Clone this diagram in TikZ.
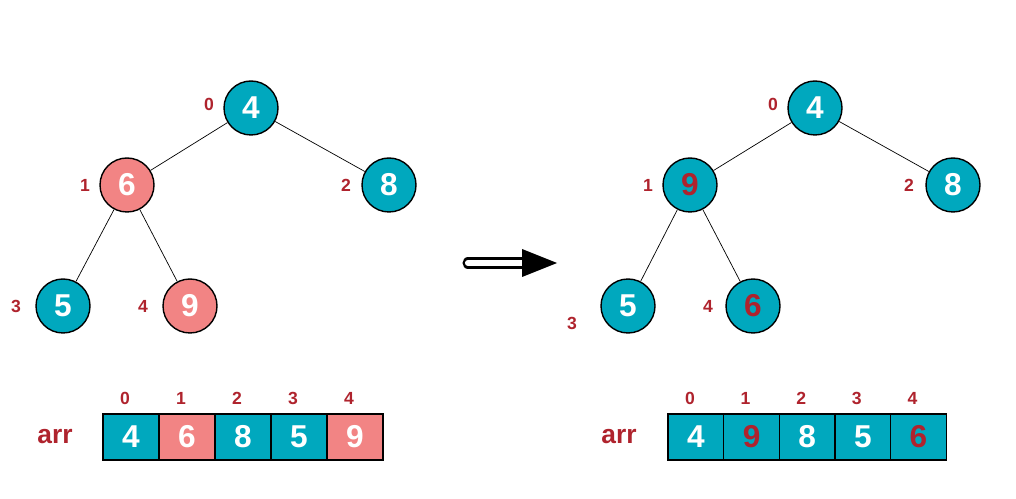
\documentclass[tikz,border=0pt]{standalone}
\usepackage{fontspec}
\setmainfont{Liberation Sans}
\usetikzlibrary{arrows.meta}
\definecolor{teal}{RGB}{0,168,190}
\definecolor{pinkk}{RGB}{242,132,132}
\definecolor{darkred}{RGB}{175,35,45}
\begin{document}
\begin{tikzpicture}[x=0.02cm,y=-0.02cm]
			\tikzstyle{every node}=[font=\bfseries]
			\tikzstyle{heap}=[circle,draw=black,thick,minimum size=1.08cm,inner sep=0pt,fill=teal,text=white,font=\bfseries\fontsize{18}{18}\selectfont]
			\tikzstyle{swap}=[heap,fill=pinkk]
			\tikzstyle{moved}=[heap,text=darkred]
			\tikzstyle{idx}=[text=darkred,font=\bfseries\fontsize{10}{10}\selectfont]
			\tikzstyle{cell}=[draw=black,thick,minimum width=1.12cm,minimum height=0.92cm,inner sep=0pt,fill=teal,text=white,font=\bfseries\fontsize{18}{18}\selectfont]
			\tikzstyle{edge}=[thin]
			\useasboundingbox (0,0) rectangle (1016,499);
			% left tree
			\node[heap] (l0) at (251,108) {4};
			\node[swap] (l1) at (127,185) {6};
			\node[heap] (l2) at (389,185) {8};
			\node[heap] (l3) at (63,306) {5};
			\node[swap] (l4) at (190,306) {9};
			\draw[edge] (l0) -- (l1); \draw[edge] (l0) -- (l2);
			\draw[edge] (l1) -- (l3); \draw[edge] (l1) -- (l4);
			\node[idx] (li0) at (209,104) {0};
			\node[idx] (li1) at (85,185) {1};
			\node[idx] (li2) at (346,185) {2};
			\node[idx] (li3) at (16,306) {3};
			\node[idx] (li4) at (143,306) {4};
			% right tree
			\node[heap] (r0) at (815,108) {4};
			\node[moved] (r1) at (690,185) {9};
			\node[heap] (r2) at (953,185) {8};
			\node[heap] (r3) at (628,306) {5};
			\node[moved] (r4) at (753,306) {6};
			\draw[edge] (r0) -- (r1); \draw[edge] (r0) -- (r2);
			\draw[edge] (r1) -- (r3); \draw[edge] (r1) -- (r4);
			\node[idx] (ri0) at (773,104) {0};
			\node[idx] (ri1) at (648,185) {1};
			\node[idx] (ri2) at (909,185) {2};
			\node[idx] (ri3) at (572,323) {3};
			\node[idx] (ri4) at (708,306) {4};
			% arrow
			\coordinate (a0) at (468,263);
			\coordinate (a1) at (522,263);
			\coordinate (a2) at (557,263);
			\draw[line width=1.4pt,double=white,double distance=3.5pt,line cap=round] (a0) -- (a1);
			\fill (a2) -- (522,249) -- (522,277) -- cycle;
			% arrays
			\node[text=darkred,font=\bfseries\fontsize{15}{15}\selectfont] (larr) at (55,437) {arr};
			\node[text=darkred,font=\bfseries\fontsize{15}{15}\selectfont] (rarr) at (619,437) {arr};
			\foreach \v/\c [count=\i from 0] in {4/teal,6/pinkk,8/teal,5/teal,9/pinkk} {
				\node[cell,fill=\c] (lc\i) at (131+56*\i,437) {\v};
				\node[idx] (lk\i) at (125+56*\i,398) {\i};
			}
			\foreach \v/\t [count=\i from 0] in {4/white,9/darkred,8/white,5/white,6/darkred} {
				\node[cell,text=\t] (rc\i) at (696+55.6*\i,437) {\v};
				\node[idx] (rk\i) at (690+55.6*\i,398) {\i};
			}
\end{tikzpicture}
\end{document}
